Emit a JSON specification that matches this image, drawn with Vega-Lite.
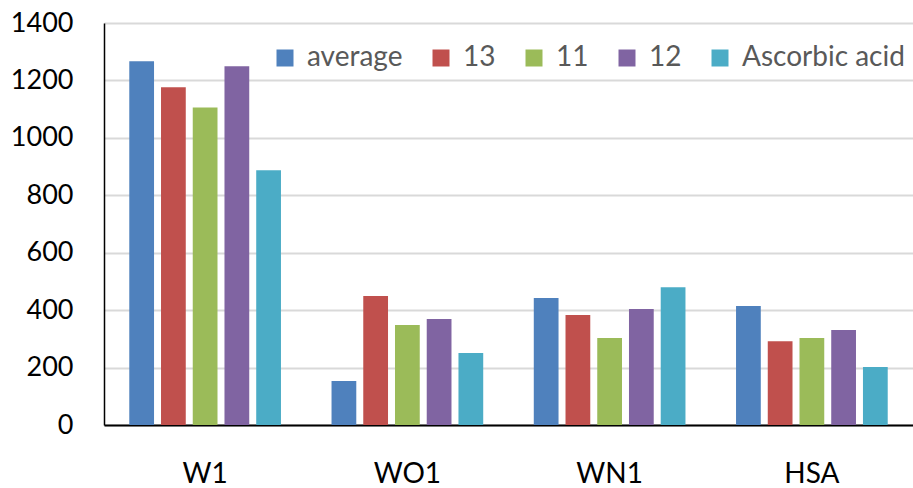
{
  "$schema": "https://vega.github.io/schema/vega-lite/v6.json",
  "width": 809,
  "height": 402,
  "autosize": "none",
  "padding": {"left": 104, "top": 23, "right": 0, "bottom": 63},
  "background": "white",
  "config": {"view": {"stroke": null}, "font": "Lato"},
  "data": {"values": [
    {"group": "W1", "series": "average", "value": 1267},
    {"group": "W1", "series": "13", "value": 1176},
    {"group": "W1", "series": "11", "value": 1106},
    {"group": "W1", "series": "12", "value": 1249},
    {"group": "W1", "series": "Ascorbic acid", "value": 887},
    {"group": "WO1", "series": "average", "value": 153},
    {"group": "WO1", "series": "13", "value": 449},
    {"group": "WO1", "series": "11", "value": 348},
    {"group": "WO1", "series": "12", "value": 369},
    {"group": "WO1", "series": "Ascorbic acid", "value": 251},
    {"group": "WN1", "series": "average", "value": 442},
    {"group": "WN1", "series": "13", "value": 383},
    {"group": "WN1", "series": "11", "value": 303},
    {"group": "WN1", "series": "12", "value": 404},
    {"group": "WN1", "series": "Ascorbic acid", "value": 480},
    {"group": "HSA", "series": "average", "value": 414},
    {"group": "HSA", "series": "13", "value": 292},
    {"group": "HSA", "series": "11", "value": 303},
    {"group": "HSA", "series": "12", "value": 331},
    {"group": "HSA", "series": "Ascorbic acid", "value": 202}
  ]},
  "mark": {"type": "bar"},
  "encoding": {
    "x": {
      "field": "group", "type": "nominal", "sort": ["W1", "WO1", "WN1", "HSA"],
      "scale": {"paddingInner": 0.25, "paddingOuter": 0.125},
      "axis": {"title": null, "labelAngle": 0, "ticks": false, "domainColor": "black", "domainWidth": 2,
               "labelFontSize": 28, "labelColor": "black", "labelPadding": 35, "labelFont": "Lato"}
    },
    "xOffset": {
      "field": "series", "type": "nominal", "sort": ["average", "13", "11", "12", "Ascorbic acid"],
      "scale": {"paddingInner": 0.22, "paddingOuter": 0}
    },
    "y": {
      "field": "value", "type": "quantitative",
      "scale": {"domain": [0, 1400], "nice": false},
      "axis": {"title": null, "values": [0, 200, 400, 600, 800, 1000, 1200, 1400], "format": "d", "ticks": false,
               "domainColor": "black", "domainWidth": 1.5, "gridColor": "#d9d9d9", "gridWidth": 2,
               "labelFontSize": 27, "labelColor": "black", "labelPadding": 31, "labelFont": "Lato"}
    },
    "color": {
      "field": "series", "type": "nominal",
      "scale": {"domain": ["average", "13", "11", "12", "Ascorbic acid"],
                "range": ["#4F81BD", "#C0504D", "#9BBB59", "#8064A2", "#4BACC6"]},
      "legend": {"title": null, "orient": "none", "direction": "horizontal", "legendX": 167, "legendY": 21,
                 "symbolType": "square", "symbolSize": 289, "symbolStrokeWidth": 0, "labelFontSize": 28,
                 "labelLimit": 400,
                 "labelColor": "#595959", "labelOffset": 8, "columnPadding": 24, "padding": 0, "labelFont": "Lato"}
    }
  }
}
